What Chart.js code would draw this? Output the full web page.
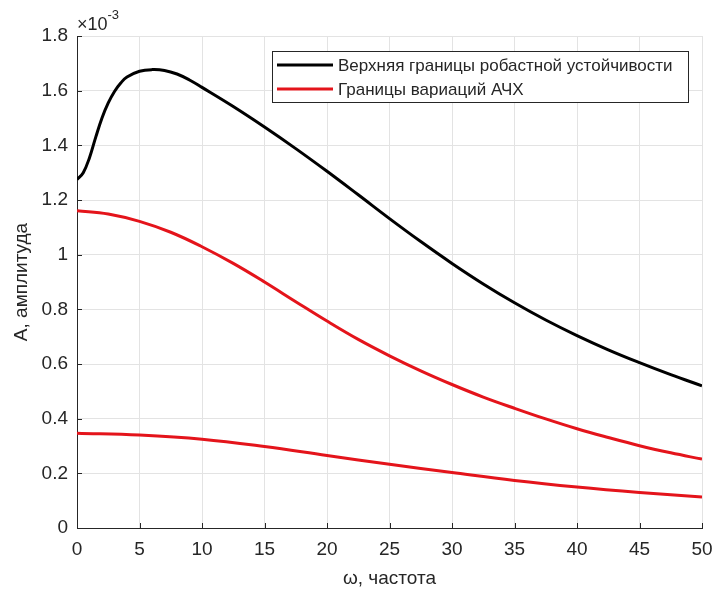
<!DOCTYPE html>
<html>
<head>
<meta charset="utf-8">
<script src="https://cdn.jsdelivr.net/npm/chart.js@4"></script>
<style>
  html, body { margin: 0; padding: 0; background: #fff; }
  #wrap { width: 714px; height: 590px; }
</style>
</head>
<body>
<div id="wrap"><canvas id="ampChart" width="714" height="590"></canvas></div>
<script>
// Amplitudes are kept in units of 10^-3
const upperFreq = [0, 0.5, 1, 1.5, 2, 2.5, 3, 3.5, 4, 5, 6, 7, 8, 9, 10, 12.5, 15, 17.5,
  20, 22.5, 25, 27.5, 30, 32.5, 35, 37.5, 40, 42.5, 45, 47.5, 50];
const upperBound = [1.275, 1.30, 1.355, 1.43, 1.50, 1.555, 1.597, 1.628, 1.650, 1.671,
  1.677, 1.674, 1.661, 1.639, 1.612, 1.542, 1.467, 1.388, 1.305, 1.219, 1.132, 1.048,
  0.968, 0.893, 0.824, 0.761, 0.704, 0.652, 0.605, 0.561, 0.52];

const varHighFreq = [0, 2.5, 5, 7.5, 10, 12.5, 15, 17.5, 20, 22.5, 25, 27.5, 30, 32.5,
  35, 37.5, 40, 42.5, 45, 47.5, 50];
const varHigh = [1.161, 1.149, 1.122, 1.082, 1.029, 0.968, 0.900, 0.828, 0.757, 0.690,
  0.630, 0.575, 0.525, 0.479, 0.438, 0.399, 0.363, 0.331, 0.301, 0.275, 0.252];

const varLowFreq = [0, 5, 10, 15, 20, 25, 30, 35, 40, 45, 50];
const varLow = [0.347, 0.340, 0.325, 0.298, 0.265, 0.233, 0.203, 0.174, 0.150, 0.130, 0.113];

const legendLabels = ['Верхняя границы робастной устойчивости', 'Границы вариаций АЧХ'];

const FONT = '"Liberation Sans", Arial, sans-serif';
const TEXT = '#262626';
const GRID = '#e3e3e3';

function toPoints(xs, ys) {
  return xs.map((x, i) => ({ x: x, y: ys[i] }));
}

// Exponent marker, inward ticks and the boxed legend
const decorPlugin = {
  id: 'decor',
  afterDraw(chart) {
    const c = chart.ctx;
    const area = chart.chartArea;
    const xs = chart.scales.x, ys = chart.scales.y;
    c.save();

    // inward tick marks
    c.strokeStyle = TEXT;
    c.lineWidth = 1;
    c.beginPath();
    ys.ticks.forEach(t => {
      const y = Math.round(ys.getPixelForValue(t.value)) + 0.5;
      c.moveTo(area.left, y);
      c.lineTo(area.left + 5, y);
    });
    xs.ticks.forEach(t => {
      const x = Math.round(xs.getPixelForValue(t.value)) + 0.5;
      c.moveTo(x, area.bottom);
      c.lineTo(x, area.bottom - 5);
    });
    c.stroke();

    // x10^-3
    c.fillStyle = TEXT;
    c.textBaseline = 'alphabetic';
    c.textAlign = 'left';
    c.font = '18px ' + FONT;
    c.fillText('×10', area.left, area.top - 6);
    const w = c.measureText('×10').width;
    c.font = '13px ' + FONT;
    c.fillText('-3', area.left + w, area.top - 17);

    // legend
    const bx = 272, by = 51, bw = 416, bh = 51;
    c.fillStyle = '#fff';
    c.fillRect(bx, by, bw, bh);
    c.strokeStyle = '#262626';
    c.lineWidth = 1;
    c.strokeRect(bx + 0.5, by + 0.5, bw, bh);
    c.font = '17px ' + FONT;
    c.textBaseline = 'middle';
    legendLabels.forEach((label, i) => {
      const ds = chart.data.datasets[i];
      const y = by + 14 + i * 24;
      c.strokeStyle = ds.borderColor;
      c.lineWidth = 3;
      c.beginPath();
      c.moveTo(bx + 5, y);
      c.lineTo(bx + 61, y);
      c.stroke();
      c.fillStyle = TEXT;
      c.fillText(label, bx + 66, y + 1);
    });
    c.restore();
  }
};

const lineStyle = { borderWidth: 3, pointRadius: 0, fill: false, tension: 0.4 };

new Chart(document.getElementById('ampChart'), {
  type: 'line',
  data: {
    datasets: [
      Object.assign({ label: legendLabels[0], data: toPoints(upperFreq, upperBound), borderColor: '#000000' }, lineStyle),
      Object.assign({ label: legendLabels[1], data: toPoints(varHighFreq, varHigh), borderColor: '#e4141b' }, lineStyle),
      Object.assign({ label: legendLabels[1], data: toPoints(varLowFreq, varLow), borderColor: '#e4141b' }, lineStyle)
    ]
  },
  options: {
    responsive: false,
    animation: false,
    layout: { padding: { left: 10, top: 36, right: 12, bottom: 0 } },
    plugins: {
      legend: { display: false },
      tooltip: { enabled: false }
    },
    scales: {
      x: {
        type: 'linear',
        min: 0,
        max: 50,
        afterFit: s => { s.height = 62; s.paddingLeft = 0; s.paddingRight = 0; },
        ticks: { stepSize: 5, color: TEXT, font: { family: FONT, size: 19 }, padding: 10, maxRotation: 0 },
        grid: { color: GRID, drawTicks: false },
        border: { color: TEXT, width: 1 },
        title: { display: true, text: 'ω, частота', color: TEXT, font: { family: FONT, size: 19 }, padding: 0 }
      },
      y: {
        min: 0,
        max: 1.8,
        afterFit: s => { s.width = 67; s.paddingTop = 0; s.paddingBottom = 0; },
        ticks: {
          stepSize: 0.2, color: TEXT, font: { family: FONT, size: 19 }, padding: 9,
          callback: v => String(+v.toFixed(1))
        },
        grid: { color: GRID, drawTicks: false },
        border: { color: TEXT, width: 1 },
        title: { display: true, text: 'A, амплитуда', color: TEXT, font: { family: FONT, size: 19 }, padding: 0 }
      }
    }
  },
  plugins: [decorPlugin]
});
</script>
</body>
</html>
